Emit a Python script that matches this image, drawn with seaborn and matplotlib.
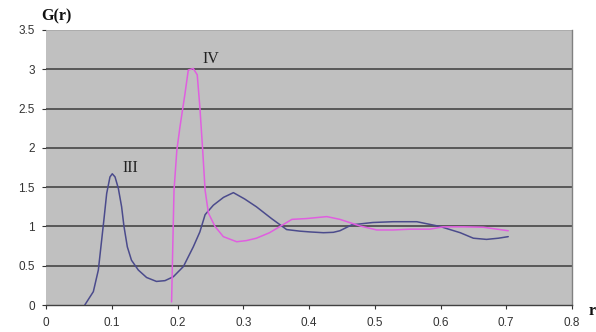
import matplotlib
matplotlib.use("Agg")
import matplotlib.pyplot as plt
import seaborn as sns
import pandas as pd

# Curve III (blue)
x_iii = [0.059, 0.072, 0.0796, 0.0847, 0.088, 0.0923, 0.0973, 0.1008, 0.105, 0.110,
         0.115, 0.1186, 0.1237, 0.130, 0.1404, 0.153, 0.168, 0.181, 0.1937, 0.209,
         0.224, 0.234, 0.242, 0.2545, 0.27, 0.285, 0.302, 0.320, 0.343, 0.366,
         0.386, 0.4015, 0.422, 0.437, 0.447, 0.465, 0.497, 0.528, 0.564, 0.599,
         0.63, 0.65, 0.67, 0.688, 0.703]
y_iii = [0.0, 0.17, 0.445, 0.83, 1.08, 1.42, 1.63, 1.67, 1.63, 1.485,
         1.25, 1.0, 0.74, 0.57, 0.445, 0.35, 0.30, 0.31, 0.36, 0.49,
         0.74, 0.93, 1.15, 1.27, 1.37, 1.43, 1.35, 1.25, 1.10, 0.96,
         0.94, 0.93, 0.92, 0.925, 0.945, 1.02, 1.05, 1.06, 1.06, 1.0,
         0.92, 0.85, 0.835, 0.85, 0.87]

# Curve IV (magenta)
x_iv = [0.191, 0.1927, 0.1947, 0.199, 0.2038, 0.2114, 0.2164, 0.224, 0.230, 0.234,
        0.2383, 0.242, 0.247, 0.257, 0.2697, 0.290, 0.305, 0.320, 0.340, 0.356,
        0.374, 0.396, 0.427, 0.447, 0.478, 0.503, 0.528, 0.554, 0.584, 0.604,
        0.635, 0.665, 0.703]
y_iv = [0.04, 0.70, 1.46, 1.97, 2.27, 2.69, 2.99, 3.01, 2.93, 2.52,
        1.97, 1.46, 1.17, 1.0, 0.87, 0.805, 0.82, 0.85, 0.92, 1.0,
        1.09, 1.10, 1.125, 1.09, 1.005, 0.955, 0.955, 0.965, 0.965, 0.995,
        0.995, 0.99, 0.945]

x_ticks = [0, 0.1, 0.2, 0.3, 0.4, 0.5, 0.6, 0.7, 0.8]
x_ticklabels = ["0", "0.1", "0.2", "0.3", "0.4", "0.5", "0.6", "0.7", "0.8"]
y_ticks = [0, 0.5, 1, 1.5, 2, 2.5, 3, 3.5]
y_ticklabels = ["0", "0.5", "1", "1.5", "2", "2.5", "3", "3.5"]

df3 = pd.DataFrame({"r": x_iii, "g": y_iii})
df4 = pd.DataFrame({"r": x_iv, "g": y_iv})

sns.set_style("white")
plt.rcParams['font.family'] = ['Liberation Sans', 'DejaVu Sans']

fig = plt.figure(figsize=(5.96, 3.32), dpi=100)
ax = fig.add_axes([46/596, 1-305/332, (572-46)/596, (305-30)/332])
ax.set_facecolor("#c0c0c0")

for yv in y_ticks[1:-1]:
    ax.axhline(yv, color="#505050", lw=1.3, zorder=1)
ax.axhline(3.5, color="#a8a8a8", lw=1.2, zorder=1)

sns.lineplot(data=df3, x="r", y="g", sort=False, color="#4b4b8c", lw=1.1, ax=ax, zorder=3)
sns.lineplot(data=df4, x="r", y="g", sort=False, color="#e05ee0", lw=1.1, ax=ax, zorder=3)

ax.set_xlim(0, 0.8)
ax.set_ylim(0, 3.5)
ax.set_xticks(x_ticks)
ax.set_xticklabels(x_ticklabels)
ax.set_yticks(y_ticks)
ax.set_yticklabels(y_ticklabels)
ax.tick_params(axis="both", labelsize=8.5, colors="#333333", length=3, width=0.8,
               direction="out", pad=6)
ax.tick_params(axis="x", bottom=True)
ax.tick_params(axis="y", left=True, pad=5)
ax.set_xlabel("")
ax.set_ylabel("")

for s in ["left", "top"]:
    ax.spines[s].set_visible(False)
ax.spines["bottom"].set_color("#404040")
ax.spines["bottom"].set_linewidth(1.0)
ax.spines["right"].set_color("#808080")
ax.spines["right"].set_linewidth(1.0)

ax.text(0.128, 1.74, "III", family="Liberation Serif", fontsize=11.5, color="#222222",
        ha="center", va="center")
ax.text(0.25, 3.13, "IV", family="Liberation Serif", fontsize=11.5, color="#222222",
        ha="center", va="center")

fig.text(41/596, 1-16/332, "G(r)", family="Liberation Serif", fontweight="bold",
         fontsize=11.5, ha="left", va="center", color="#111111")
fig.text(589/596, 1-311/332, "r", family="Liberation Serif", fontweight="bold",
         fontsize=11.5, ha="left", va="center", color="#111111")

fig.savefig("out.png", dpi=100)
